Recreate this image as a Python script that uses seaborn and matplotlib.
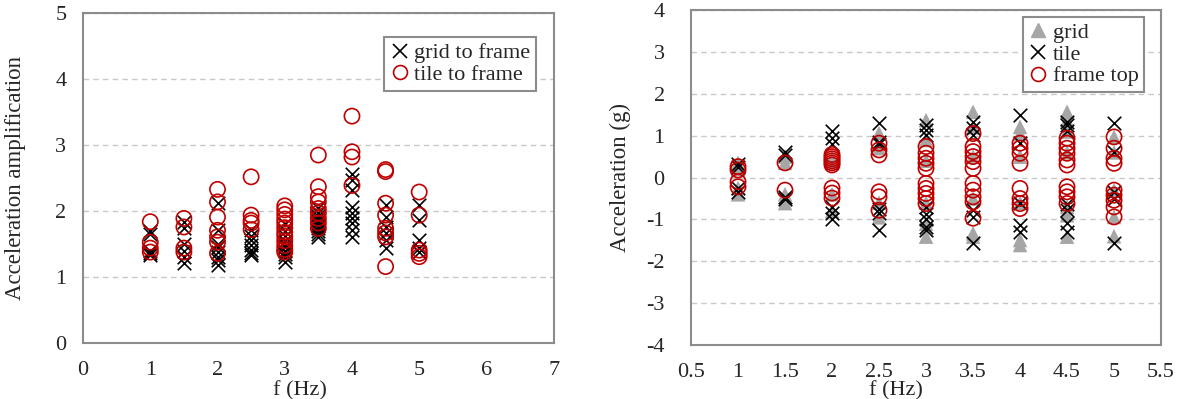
import seaborn as sns
import matplotlib.pyplot as plt
from matplotlib.lines import Line2D
import pandas as pd

# Frequencies tested (Hz)
freqs = [1, 1.5, 2, 2.5, 3, 3.5, 4, 4.5, 5]

# Left panel: acceleration amplification, one list per frequency
grid_to_frame = [
    [1.70, 1.65, 1.40, 1.36, 1.34],
    [1.83, 1.75, 1.50, 1.40, 1.30, 1.22],
    [2.12, 1.71, 1.50, 1.46, 1.38, 1.30, 1.26, 1.18],
    [1.71, 1.62, 1.56, 1.48, 1.41, 1.36, 1.33],
    [1.80, 1.70, 1.62, 1.55, 1.50, 1.45, 1.40, 1.35, 1.30, 1.23],
    [2.05, 1.97, 1.92, 1.89, 1.85, 1.82, 1.78, 1.74, 1.70, 1.65, 1.61],
    [2.57, 2.47, 2.32, 2.07, 1.97, 1.89, 1.82, 1.71, 1.61],
    [2.09, 1.91, 1.76, 1.67, 1.56, 1.44],
    [2.09, 1.86, 1.56, 1.44, 1.38],
]
tile_to_frame = [
    [1.84, 1.53, 1.44, 1.38],
    [1.89, 1.76, 1.44, 1.38],
    [2.33, 2.14, 1.91, 1.71, 1.61, 1.53, 1.36],
    [2.52, 1.94, 1.86, 1.82, 1.72],
    [2.08, 2.02, 1.95, 1.88, 1.82, 1.75, 1.68, 1.62, 1.55, 1.48, 1.42, 1.38],
    [2.85, 2.37, 2.22, 2.14, 2.04, 1.97, 1.89, 1.82, 1.74],
    [3.44, 2.90, 2.82, 2.39],
    [2.63, 2.60, 2.12, 1.94, 1.74, 1.67, 1.61, 1.16],
    [2.29, 1.94, 1.41, 1.36, 1.31],
]

# Right panel: peak accelerations (g)
grid_acc = [
    [0.35, 0.20, -0.25, -0.40],
    [0.35, 0.50, -0.40, -0.61],
    [0.45, 0.35, -0.40, -0.80],
    [1.06, 0.70, -0.60, -0.95],
    [1.37, 0.90, 0.40, -0.60, -1.10, -1.41],
    [1.57, 1.20, 0.50, -0.50, -1.33, -1.41],
    [1.21, 1.05, 0.50, -0.60, -1.49, -1.61],
    [1.57, 1.37, 1.10, 0.60, -0.70, -0.90, -1.41],
    [0.97, 0.60, -0.30, -0.94, -1.40],
]
tile_acc = [
    [0.32, 0.25, -0.25, -0.35],
    [0.62, 0.55, -0.46, -0.50],
    [1.10, 0.95, 0.80, -0.70, -0.85, -1.00],
    [1.30, 0.85, 0.80, -0.75, -0.85, -1.25],
    [1.25, 1.13, 1.01, -0.70, -0.86, -1.00, -1.17, -1.25],
    [1.33, 1.18, 1.01, -0.78, -0.94, -1.57],
    [1.49, 0.82, -0.60, -1.13, -1.29],
    [1.33, 1.25, 1.10, -0.62, -0.78, -1.09, -1.29],
    [1.30, 0.62, -0.34, -0.50, -1.57],
]
frame_top_acc = [
    [0.26, 0.18, -0.10, -0.22],
    [0.35, -0.30],
    [0.55, 0.50, 0.45, 0.40, 0.35, 0.30, -0.25, -0.37, -0.49],
    [0.82, 0.66, 0.54, -0.34, -0.46, -0.78],
    [0.74, 0.58, 0.46, 0.34, 0.22, -0.14, -0.26, -0.38, -0.50, -0.62],
    [1.05, 0.74, 0.62, 0.50, 0.38, 0.22, -0.14, -0.30, -0.46, -0.58, -0.97],
    [0.82, 0.70, 0.58, 0.34, -0.26, -0.50, -0.62, -0.74],
    [0.94, 0.82, 0.70, 0.58, 0.42, 0.30, -0.22, -0.34, -0.46, -0.62],
    [0.97, 0.70, 0.46, 0.34, -0.30, -0.42, -0.54, -0.70, -0.94],
]


def to_frame(values):
    rows = [(f, v) for f, vals in zip(freqs, values) for v in vals]
    return pd.DataFrame(rows, columns=['f', 'a'])


sns.set_style("white")
plt.rcParams['font.family'] = ['Liberation Serif', 'DejaVu Serif']
plt.rcParams['font.size'] = 16
plt.rcParams['axes.unicode_minus'] = False

RED = '#C00000'
GREY = '#A6A6A6'
SPINE = '#8C8C8C'
FS = 16

fig = plt.figure(figsize=(11.78, 3.99), dpi=100)
ax1 = fig.add_axes([0.0705, 0.140, 0.3995, 0.827])
ax2 = fig.add_axes([0.5866, 0.135, 0.399, 0.840])

x_kw = dict(marker='x', color='black', s=95, linewidth=1.2)
o_kw = dict(marker='o', facecolor='none', edgecolor=RED, s=120, linewidth=1.2)
t_kw = dict(marker='^', color=GREY, edgecolor='none', s=110)

# Left panel
sns.scatterplot(data=to_frame(grid_to_frame), x='f', y='a', ax=ax1, **x_kw)
sns.scatterplot(data=to_frame(tile_to_frame), x='f', y='a', ax=ax1, **o_kw)
ax1.set_xlim(0, 7)
ax1.set_ylim(0, 5)
ax1.set_xticks(range(0, 8))
ax1.set_yticks(range(0, 6))

# Right panel
sns.scatterplot(data=to_frame(grid_acc), x='f', y='a', ax=ax2, **t_kw)
sns.scatterplot(data=to_frame(tile_acc), x='f', y='a', ax=ax2, **x_kw)
sns.scatterplot(data=to_frame(frame_top_acc), x='f', y='a', ax=ax2, **o_kw)
ax2.set_xlim(0.5, 5.5)
ax2.set_ylim(-4, 4)
ax2.set_xticks([0.5 + 0.5 * i for i in range(11)])
ax2.set_xticklabels(['0.5', '1', '1.5', '2', '2.5', '3', '3.5', '4', '4.5', '5', '5.5'])
ax2.set_yticks(range(-4, 5))

for ax in (ax1, ax2):
    for sp in ax.spines.values():
        sp.set_color(SPINE)
        sp.set_linewidth(1.5)
    ax.yaxis.grid(True, linestyle=(0, (4, 3)), color='#C8C8C8', linewidth=1)
    ax.xaxis.grid(False)
    ax.set_axisbelow(True)
    ax.tick_params(axis='x', direction='in', length=6, width=1, color=SPINE,
                   pad=13, labelsize=FS)
    ax.tick_params(axis='y', length=0, labelsize=FS)
    ax.set_xlabel('f (Hz)', fontsize=FS)

ax1.tick_params(axis='y', pad=12)
ax2.tick_params(axis='y', pad=19)

ax1.set_ylabel('Acceleration amplification', fontsize=16.5)
ax2.set_ylabel('Acceleration (g)', fontsize=16.5)
ax1.yaxis.set_label_coords(-0.122, 0.5)
ax2.yaxis.set_label_coords(-0.128, 0.5)
ax1.xaxis.set_label_coords(0.461, -0.115)
ax2.xaxis.set_label_coords(0.436, -0.107)

leg_kw = dict(loc='upper right', borderaxespad=0, fontsize=FS, fancybox=False,
              framealpha=1, edgecolor=SPINE, handlelength=0.9, handletextpad=0.2,
              borderpad=0.25, labelspacing=0.05)

h_x = Line2D([], [], linestyle='none', marker='x', color='black', markersize=10,
             markeredgewidth=1.2)
h_o = Line2D([], [], linestyle='none', marker='o', markerfacecolor='none',
             markeredgecolor=RED, markersize=10, markeredgewidth=1.2)
h_t = Line2D([], [], linestyle='none', marker='^', color=GREY, markersize=10)

l1 = ax1.legend([h_x, h_o], ['grid to frame', 'tile to frame'],
                bbox_to_anchor=(0.962, 0.927), **leg_kw)
l1.get_frame().set_linewidth(1.5)
l2 = ax2.legend([h_t, h_x, h_o], ['grid', 'tile', 'frame top'],
                bbox_to_anchor=(0.964, 0.979), **leg_kw)
l2.get_frame().set_linewidth(1.5)

fig.savefig('out.png', dpi=100)
